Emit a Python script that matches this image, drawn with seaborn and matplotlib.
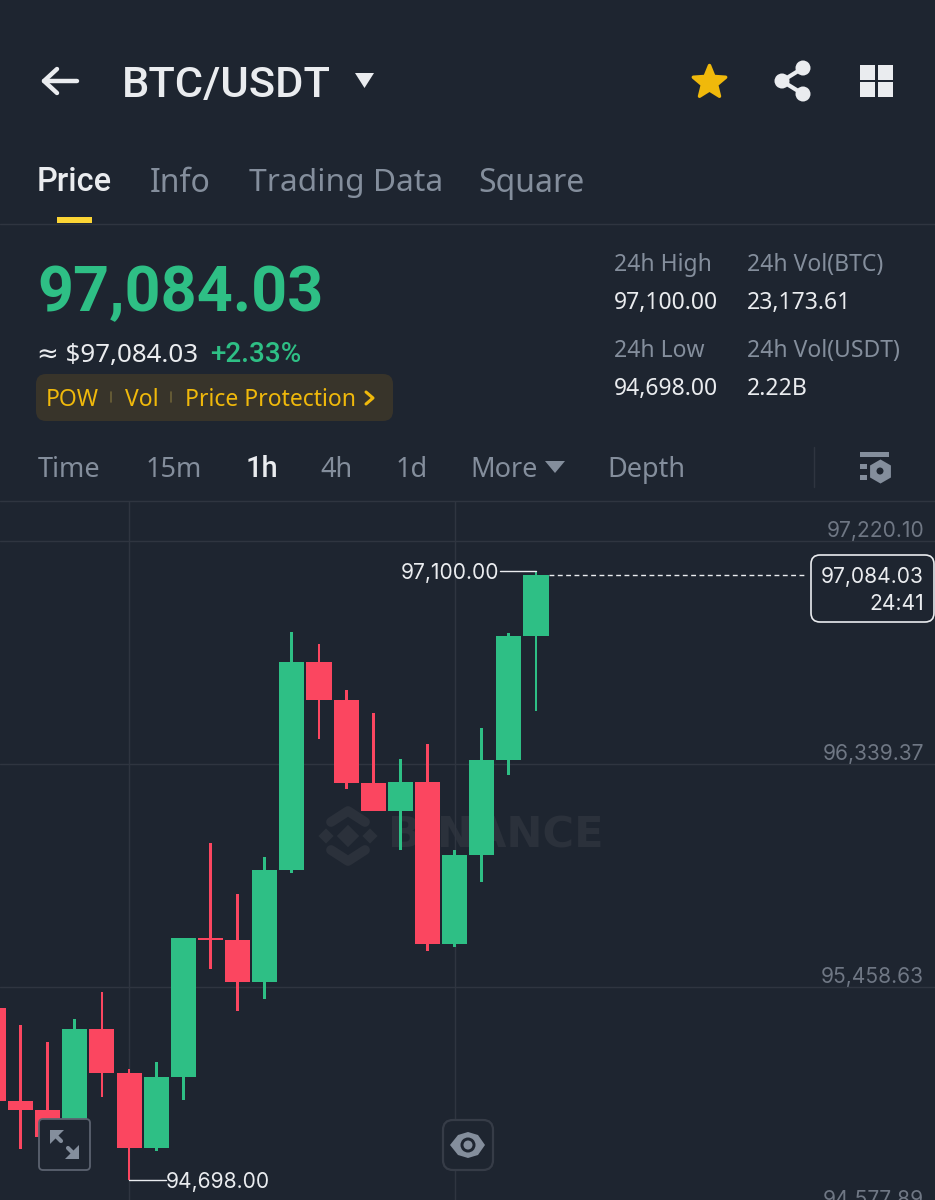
import numpy as np
import pandas as pd
import seaborn as sns
import matplotlib.pyplot as plt
from matplotlib.patches import FancyBboxPatch, Rectangle, Circle, Polygon

# hourly candles
candle_idx = list(range(21))
opens = [95375.7, 95008.4, 94972.8, 94866.2, 95292.7, 95120.9, 94822.8, 95103.2, 95654.1, 95644.2, 95478.4,
         95920.7, 96742.2, 96592.1, 96264.3, 96153.7, 96268.3, 95628.4, 95980.0, 96355.2, 96844.9]
closes = [95009.5, 94972.8, 94866.2, 95292.7, 95120.9, 94822.8, 95103.2, 95654.1, 95644.2, 95478.4, 95920.7,
          96742.2, 96592.1, 96264.3, 96153.7, 96268.3, 95628.4, 95980.0, 96355.2, 96844.9, 97084.03]
highs = [95420.0, 95308.5, 95241.4, 95332.2, 95438.9, 95134.8, 95162.4, 95654.1, 96027.3, 95825.9, 95972.1,
         96860.7, 96813.3, 96631.6, 96540.8, 96359.1, 96418.4, 95999.7, 96481.5, 96858.0, 97100.0]
lows = [94990.0, 94818.8, 94850.0, 94866.2, 95024.2, 94698.0, 94810.9, 95012.3, 95529.7, 95363.8, 95411.2,
        95908.9, 96438.1, 96240.6, 96153.7, 95999.7, 95600.8, 95616.6, 95873.3, 96295.9, 96548.7]

price_ticks = [97220.10, 96339.37, 95458.63, 94577.89]
grid_candles = [5, 17]
high_label = 97100.00
low_label = 94698.00
last_price = 97084.03

BG = '#1e2530'
GRID = '#2f3540'
GREEN = '#2ebf85'
RED = '#fb4660'
GRAY = '#848e9c'
WHITE = '#eaecef'
YELLOW = '#f0b90b'

sns.set_theme(style='dark')
plt.rcParams['font.family'] = ['Noto Sans', 'DejaVu Sans']

df = pd.DataFrame({'idx': candle_idx, 'open': opens, 'close': closes, 'high': highs, 'low': lows})
df['body_low'] = df[['open', 'close']].min(axis=1)
df['body'] = (df['open'] - df['close']).abs()
df['wick'] = df['high'] - df['low']
df['up'] = df['close'] >= df['open']

fig = plt.figure(figsize=(9.35, 12), dpi=100, facecolor=BG)
W, H = 935, 1200

# price chart, fills the lower part of the screen
ax = fig.add_axes([0, 0, 1, (H - 501) / H], facecolor='none', zorder=1)
for is_up, color in [(True, GREEN), (False, RED)]:
    sub = df[df['up'] == is_up]
    sns.barplot(data=sub, x='idx', y='wick', bottom=sub['low'], native_scale=True, color=color, saturation=1,
                width=0.105, errorbar=None, ax=ax, zorder=3, linewidth=0)
    sns.barplot(data=sub, x='idx', y='body', bottom=sub['body_low'], native_scale=True, color=color, saturation=1,
                width=0.925, errorbar=None, ax=ax, zorder=4, linewidth=0)
ax.set_xticks(grid_candles)
ax.set_yticks(price_ticks)
# set_yticks widens the view, so the limits come after it
ax.set_xlim(0.243, 34.707)
ax.set_ylim(94617.4, 97378.1)
ax.set_xticklabels([])
ax.set_yticklabels([])
ax.set_xlabel('')
ax.set_ylabel('')
ax.tick_params(length=0)
ax.grid(True, color=GRID, linewidth=1.0)
ax.set_axisbelow(True)
for s in ax.spines.values():
    s.set_visible(False)

# price labels sit just above their grid line
for p in price_ticks:
    ax.annotate(f'{p:,.2f}', xy=(924 / W, p), xycoords=('axes fraction', 'data'), xytext=(0, 10),
                textcoords='offset pixels', ha='right', va='center', color='#6f7784', fontsize=15.1, family='Inter')

# high / low markers
ax.plot([18.66, 20], [high_label, high_label], color=WHITE, lw=1, zorder=5)
ax.annotate(f'{high_label:,.2f}', xy=(18.64, high_label), xytext=(0, -2), textcoords='offset pixels', ha='right',
            va='center', color=WHITE, fontsize=15.1, family='Inter', zorder=5)
ax.plot([5, 6.35], [low_label, low_label], color=WHITE, lw=1, zorder=5)
ax.annotate(f'{low_label:,.2f}', xy=(6.36, low_label), xytext=(0, -2), textcoords='offset pixels', ha='left',
            va='center', color=WHITE, fontsize=15.1, family='Inter', zorder=5)
ax.plot([20.48, 29.9], [last_price, last_price], color=WHITE, lw=1, ls=(0, (3.5, 2.5)), zorder=5)

# everything else is app chrome, drawn in pixel coordinates
ui = fig.add_axes([0, 0, 1, 1], facecolor='none', zorder=2)
ui.set_xlim(0, W)
ui.set_ylim(H, 0)
ui.axis('off')

# line boxes of the fonts sit high, nudge them down to the visual centre
NUDGE = {'Noto Sans': 0.14, 'Roboto': 0.09, 'Inter': 0.12}


def label(x, y, s, color=WHITE, size=20, ha='left', weight='normal', family='Noto Sans', zorder=10):
    ui.text(x, y + NUDGE[family] * size, s, color=color, fontsize=size, ha=ha, va='center', fontweight=weight,
            family=[family, 'DejaVu Sans'], zorder=zorder)


def tri(x0, x1, y0, y1, color):
    ui.add_patch(Polygon([(x0, y0), (x1, y0), ((x0 + x1) / 2, y1)], closed=True, color=color, lw=0))


# top bar
ui.plot([44, 77], [81, 81], color=WHITE, lw=3.2, solid_capstyle='round')
ui.plot([57, 44, 57], [69, 81, 93], color=WHITE, lw=3.2, solid_capstyle='round', solid_joinstyle='round')
label(122, 83, 'BTC/USDT', size=31.3, weight='medium', family='Roboto')
tri(355, 374, 73, 88, WHITE)
star_a = np.deg2rad(np.arange(10) * 36 - 90)
star_r = np.where(np.arange(10) % 2 == 0, 17, 7.5)
ui.add_patch(Polygon(np.column_stack([709.5 + star_r * np.cos(star_a), 82.5 + star_r * np.sin(star_a)]), closed=True,
                     fc=YELLOW, ec=YELLOW, lw=2.5, joinstyle='round'))
ui.plot([803, 782, 803], [68, 81, 94], color=WHITE, lw=3)
for cx, cy in [(803, 68), (803, 94), (782, 81)]:
    ui.add_patch(Circle((cx, cy), 7.5, color=WHITE, lw=0))
for x0, y0 in [(860, 65), (877.5, 65), (860, 82), (877.5, 82)]:
    ui.add_patch(Rectangle((x0, y0), 15, 15, color=WHITE, lw=0))

# tabs
label(37, 180, 'Price', size=23.5, weight='medium', family='Roboto')
label(150, 180, 'Info', GRAY, 23)
label(249, 180, 'Trading Data', GRAY, 22.8)
label(478, 180, 'Square', GRAY, 23)
ui.add_patch(Rectangle((57, 217), 35, 6, color='#fcd535', lw=0, zorder=3))
ui.plot([0, W], [223.5, 223.5], color=GRID, lw=1.0)

# last price block
label(37, 290, '97,084.03', GREEN, 45.3, weight='bold', family='Roboto')
label(37, 353, '≈ $97,084.03', WHITE, 18.7)
label(210, 353, '+2.33%', GREEN, 20, weight='medium', family='Roboto')
ui.add_patch(FancyBboxPatch((36, 374), 357, 47, boxstyle='round,pad=0,rounding_size=10',
                            ec='none', fc='#38342a', lw=0))
label(46, 398, 'POW', YELLOW, 16.5)
label(125, 398, 'Vol', YELLOW, 16.5)
label(185, 398, 'Price Protection', YELLOW, 16.5)
for x in [111, 171]:
    ui.plot([x, x], [392, 402], color='#6d6238', lw=1.2)
ui.plot([366, 373, 366], [392, 398, 404], color=YELLOW, lw=2.2)

# 24h stats
for x, y, s, c in [(614, 263, '24h High', GRAY), (614, 301, '97,100.00', WHITE),
                   (614, 349, '24h Low', GRAY), (614, 387, '94,698.00', WHITE),
                   (747, 263, '24h Vol(BTC)', GRAY), (747, 301, '23,173.61', WHITE),
                   (747, 349, '24h Vol(USDT)', GRAY), (747, 387, '2.22B', WHITE)]:
    label(x, y, s, c, 16.5)

# interval row
for x, s, c in [(38, 'Time', GRAY), (146, '15m', GRAY), (320, '4h', GRAY),
                (396, '1d', GRAY), (470, 'More', GRAY), (607, 'Depth', GRAY)]:
    label(x, 467, s, c, 19.5)
label(246, 467, '1h', WHITE, 21, weight='medium', family='Roboto')
tri(545, 565, 461, 473, GRAY)
ui.plot([813.5, 813.5], [447, 487], color=GRID, lw=1.0)
ui.add_patch(Rectangle((860, 452), 29, 4.5, color=GRAY, lw=0))
ui.add_patch(Rectangle((860, 464), 7, 4.5, color=GRAY, lw=0))
ui.add_patch(Rectangle((860, 475), 7, 4.5, color=GRAY, lw=0))
ui.scatter([880], [471], marker='h', s=300, color=GRAY, linewidths=0)
ui.add_patch(Circle((880, 471), 3.5, color=BG, lw=0, zorder=3))
ui.plot([0, W], [500.5, 500.5], color=GRID, lw=1.0)

# watermark, under the candles
WM = '#2b313b'
wm = fig.add_axes([0, 0, 1, 1], facecolor='none', zorder=0.5)
wm.axis('off')
wm.set_xlim(0, W)
wm.set_ylim(H, 0)
wm.text(388, 836, 'BINANCE', color=WM, fontsize=31, fontweight='bold', family='DejaVu Sans', va='center', ha='left')
wm.scatter([348, 326, 370], [836, 836, 836], marker='D', s=[130, 60, 60], color=WM, linewidths=0)
wm.plot([331, 348, 365], [822, 811, 822], color=WM, lw=7)
wm.plot([331, 348, 365], [850, 861, 850], color=WM, lw=7)

# current price box
ui.add_patch(FancyBboxPatch((811, 555), 123, 67, boxstyle='round,pad=0,rounding_size=9',
                            ec=WHITE, fc=BG, lw=1.2, zorder=6))
label(924, 575, '97,084.03', WHITE, 15.1, ha='right', family='Inter')
label(924, 602, '24:41', WHITE, 15.1, ha='right', family='Inter')

# expand button
ui.add_patch(FancyBboxPatch((39, 1119), 51, 51, boxstyle='round,pad=0,rounding_size=4',
                            ec='#5c6370', fc=BG, lw=1.3, zorder=6))
ui.add_patch(Polygon([(50, 1130), (64, 1130), (50, 1144)], closed=True, color=GRAY, lw=0, zorder=7))
ui.add_patch(Polygon([(79, 1159), (65, 1159), (79, 1145)], closed=True, color=GRAY, lw=0, zorder=7))
ui.plot([54, 61], [1134, 1141], color=GRAY, lw=3, zorder=7)
ui.plot([68, 75], [1148, 1155], color=GRAY, lw=3, zorder=7)

# eye button
ui.add_patch(FancyBboxPatch((443, 1120), 50, 50, boxstyle='round,pad=0,rounding_size=10',
                            ec='#363c47', fc=BG, lw=1.6, zorder=6))
eye_x = np.array([450, 458, 468, 478, 485, 478, 468, 458])
eye_y = np.array([1145, 1135, 1132, 1135, 1145, 1155, 1158, 1155])
ui.add_patch(Polygon(np.column_stack([eye_x, eye_y]), closed=True, color=GRAY, lw=0, zorder=7))
ui.add_patch(Circle((468, 1145), 7.5, color=BG, lw=0, zorder=8))
ui.add_patch(Circle((468, 1145), 4.5, color=GRAY, lw=0, zorder=9))

fig.savefig('out.png', dpi=100, facecolor=BG)
plt.close()
